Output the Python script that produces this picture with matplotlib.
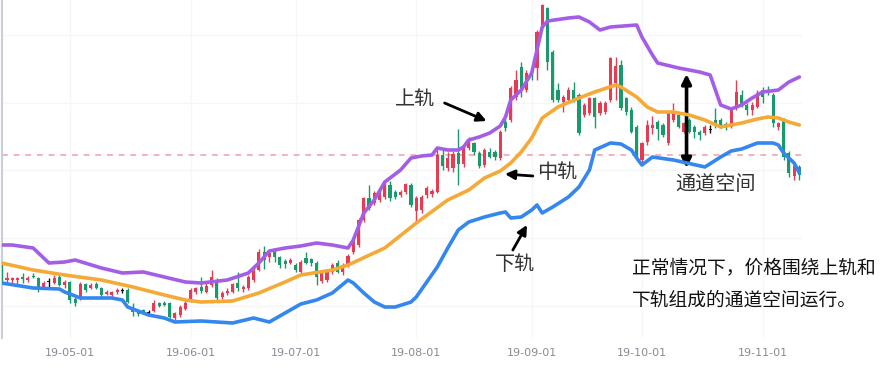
import matplotlib
matplotlib.use('Agg')
import matplotlib.pyplot as plt
import numpy as np

plt.rcParams['font.family'] = ['Noto Sans CJK SC', 'DejaVu Sans']

# Daily candles (trading-day index 0..152), price in chart units
opens = [73, 58, 58, 58, 61, 58, 62, 60, 50, 56, 55, 61, 53, 56, 39, 40, 54, 50, 54, 50,
         44, 43, 46, 47, 48, 31, 26, 28, 25, 27, 35, 35, 35, 20, 23, 29, 37, 46, 51, 46,
         53, 57, 41, 45, 46, 55, 49, 50, 58, 68, 86, 81, 86, 81, 77, 75, 73, 66, 80, 79,
         75, 57, 58, 66, 75, 66, 73, 86, 93, 118, 140, 135, 138, 141, 153, 146, 143, 146, 153, 127,
         128, 143, 144, 146, 183, 170, 170, 185, 174, 190, 195, 185, 173, 186, 186, 180, 216, 218, 241, 271,
         248, 266, 270, 313, 330, 286, 248, 236, 238, 248, 243, 223, 225, 240, 225, 226, 238, 255, 273, 240,
         228, 211, 178, 196, 210, 216, 213, 195, 218, 223, 206, 218, 211, 206, 205, 208, 218, 218, 214, 211,
         230, 243, 233, 228, 231, 248, 248, 243, 211, 218, 185, 162, 171]
closes = [56, 60, 60, 60, 59, 60, 61, 50, 55, 56, 60, 53, 56, 38, 35, 54, 48, 53, 50, 43,
          46, 46, 48, 47, 36, 26, 24, 25, 25, 35, 32, 33, 21, 25, 31, 35, 48, 50, 47, 52,
          61, 40, 45, 47, 54, 50, 51, 61, 67, 86, 78, 85, 81, 73, 74, 78, 68, 76, 75, 75,
          61, 65, 66, 73, 66, 73, 82, 99, 118, 140, 130, 145, 146, 153, 140, 141, 146, 154, 133, 140,
          141, 150, 147, 183, 172, 180, 184, 174, 190, 196, 186, 172, 188, 181, 181, 206, 210, 250, 258, 250,
          265, 263, 306, 333, 276, 238, 238, 241, 248, 238, 205, 233, 240, 221, 235, 235, 280, 272, 230, 226,
          206, 181, 195, 213, 213, 209, 203, 225, 225, 211, 215, 206, 206, 203, 211, 208, 213, 212, 210, 228,
          246, 233, 228, 233, 245, 241, 245, 215, 215, 181, 165, 172, 163]
highs = [73, 66, 61, 61, 65, 62, 65, 61, 57, 60, 63, 63, 58, 57, 41, 56, 55, 55, 56, 51,
         48, 47, 50, 50, 50, 35, 27, 29, 28, 38, 36, 37, 36, 26, 33, 37, 50, 51, 61, 55,
         68, 60, 47, 50, 55, 66, 53, 63, 70, 89, 92, 86, 88, 82, 79, 80, 75, 78, 86, 80,
         77, 66, 68, 75, 78, 75, 84, 101, 120, 141, 153, 147, 149, 156, 157, 148, 148, 155, 155, 142,
         143, 152, 149, 191, 188, 186, 187, 209, 193, 201, 196, 187, 190, 190, 188, 208, 220, 252, 268, 276,
         268, 270, 308, 334, 331, 288, 255, 243, 251, 256, 245, 235, 241, 241, 237, 237, 281, 281, 278, 241,
         231, 213, 196, 218, 222, 218, 215, 226, 235, 225, 216, 220, 213, 208, 213, 213, 230, 220, 216, 230,
         258, 248, 235, 236, 248, 251, 252, 245, 216, 220, 187, 175, 173]
lows = [56, 56, 53, 53, 55, 56, 60, 46, 49, 51, 54, 52, 50, 35, 32, 38, 46, 49, 49, 40,
        43, 40, 44, 45, 35, 22, 22, 24, 22, 26, 31, 32, 20, 18, 21, 28, 36, 44, 45, 45,
        51, 38, 39, 43, 45, 47, 46, 48, 56, 67, 69, 76, 76, 70, 70, 74, 66, 65, 74, 72,
        53, 55, 56, 64, 65, 63, 71, 84, 91, 116, 128, 133, 136, 139, 137, 139, 141, 144, 131, 116,
        125, 140, 141, 145, 168, 167, 166, 153, 171, 188, 183, 170, 171, 180, 178, 178, 207, 216, 238, 241,
        246, 258, 258, 311, 268, 236, 236, 226, 236, 236, 203, 221, 223, 210, 223, 224, 236, 238, 228, 223,
        205, 180, 175, 193, 204, 198, 201, 193, 216, 210, 205, 205, 200, 198, 203, 205, 210, 210, 208, 210,
        228, 231, 223, 223, 230, 235, 243, 211, 208, 178, 161, 158, 158]

# Bollinger bands, sampled along the trading-day index
upper_idx = [0, 2, 6, 9, 12, 14, 19, 23, 27, 31, 35, 38, 43, 47, 49, 51, 54, 57, 60, 63,
             66, 67, 69, 71, 73, 76, 78, 80, 82, 83, 85, 87, 88, 89, 91, 93, 95, 96, 97, 99,
             101, 102, 103, 104, 108, 110, 112, 114, 116, 121, 122, 124, 125, 129, 133, 135, 136, 137, 139, 141,
             143, 145, 148, 150, 152]
upper = [93, 93, 90, 75, 76, 78, 70, 65, 66, 61, 56, 55, 58, 65, 75, 87, 90, 92, 95, 93,
         90, 98, 125, 138, 156, 168, 180, 182, 183, 190, 188, 188, 191, 198, 201, 205, 212, 221, 238, 248,
         265, 288, 311, 317, 320, 321, 316, 308, 311, 313, 301, 283, 275, 270, 266, 263, 248, 233, 229, 233,
         240, 246, 248, 256, 261]
mid_idx = [0, 6, 12, 19, 25, 31, 35, 38, 44, 49, 54, 57, 63, 66, 73, 79, 85, 89, 92, 95,
           97, 99, 101, 103, 106, 110, 113, 117, 118, 121, 123, 125, 128, 131, 134, 137, 141, 144, 146, 148,
           150, 152]
mid = [75, 68, 63, 58, 51, 43, 38, 36, 37, 45, 56, 63, 68, 73, 90, 115, 138, 148, 160, 167,
       175, 186, 200, 220, 231, 240, 246, 253, 251, 241, 231, 226, 226, 223, 218, 211, 215, 219, 221, 220,
       216, 213]
lower_idx = [0, 6, 11, 12, 15, 21, 23, 24, 28, 31, 33, 38, 44, 48, 51, 54, 57, 60, 63, 66,
             67, 69, 71, 73, 75, 78, 79, 81, 83, 85, 87, 89, 92, 95, 96, 97, 99, 101, 102, 103,
             105, 108, 110, 112, 113, 116, 118, 120, 121, 122, 124, 128, 134, 137, 139, 141, 144, 147, 148, 149,
             151, 152]
lower = [55, 50, 49, 46, 40, 40, 38, 31, 23, 20, 16, 17, 15, 20, 16, 25, 34, 38, 45, 58,
         55, 45, 36, 31, 31, 36, 41, 56, 71, 90, 108, 116, 121, 125, 126, 120, 121, 128, 133, 125,
         131, 141, 151, 168, 188, 195, 194, 188, 180, 173, 181, 178, 171, 181, 187, 189, 195, 195, 193, 185,
         175, 165]

ref_level = 183
tick_idx = [13, 36, 56, 79, 101, 122, 145]
tick_labels = ['19-05-01', '19-06-01', '19-07-01', '19-08-01', '19-09-01', '19-10-01', '19-11-01']

up_color = '#e63c52'
down_color = '#189a6a'

fig = plt.figure(figsize=(8.95, 3.82), dpi=100)
ax = fig.add_axes([2 / 895, 44 / 382, 800 / 895, 338 / 382])

x = np.arange(len(opens))
o = np.array(opens)
c = np.array(closes)
colors = np.where(c > o, up_color, np.where(c < o, down_color, '#111111'))

# faint grid
for gy in [32, 100, 168, 235, 303]:
    ax.axhline(gy, color='#f5f6f8', lw=1, zorder=0)
for tx in tick_idx:
    ax.axvline(tx, color='#f5f6f8', lw=1, zorder=0)

ax.axhline(ref_level, color='#f2a5ae', lw=1.2, ls=(0, (3.5, 3.5)), zorder=1)

# candles
ax.vlines(x, lows, highs, colors=colors, lw=1, zorder=2)
body_h = np.maximum(np.abs(c - o), 0.8)
ax.bar(x, body_h, bottom=np.minimum(o, c), width=0.6, color=colors, zorder=3)

# bands
band_style = dict(lw=2.6, zorder=4, solid_capstyle='round', solid_joinstyle='round')
ax.plot(upper_idx, upper, color='#a45ee6', **band_style)
ax.plot(mid_idx, mid, color='#f5a936', **band_style)
ax.plot(lower_idx, lower, color='#3387ef', **band_style)

# annotations
arrow = dict(arrowstyle='-|>', color='black', lw=2, mutation_scale=14, shrinkA=0, shrinkB=0)
ax.text(78.7, 239, '上轨', fontsize=14.5, color='#333333', ha='center', va='center')
ax.annotate('', xy=(92.4, 217), xytext=(84.4, 235), arrowprops=arrow)
ax.text(105.8, 166, '中轨', fontsize=14.5, color='#333333', ha='center', va='center')
ax.annotate('', xy=(95.9, 164), xytext=(101.2, 162), arrowprops=arrow)
ax.text(97.8, 73, '下轨', fontsize=14.5, color='#333333', ha='center', va='center')
ax.annotate('', xy=(100.1, 113), xytext=(97.4, 88), arrowprops=arrow)
ax.annotate('', xy=(130.5, 264), xytext=(130.5, 170),
            arrowprops=dict(arrowstyle='<|-|>', color='black', lw=2.6, mutation_scale=14,
                            shrinkA=0, shrinkB=0))
ax.text(136.1, 154, '通道空间', fontsize=14.5, color='#333333', ha='center', va='center')

fig.text(632 / 895, 1 - 284 / 382, '正常情况下，价格围绕上轨和\n下轨组成的通道空间运行。',
         fontsize=13.5, color='#111111', ha='left', va='center', linespacing=1.75)

ax.set_xlim(0.06, 152.5)
ax.set_ylim(0, 338)
ax.set_yticks([])
ax.set_xticks(tick_idx)
ax.set_xticklabels(tick_labels, fontsize=8, color='#868b96', family='DejaVu Sans')
ax.tick_params(axis='x', length=0, pad=7)
for side in ['top', 'right', 'bottom']:
    ax.spines[side].set_visible(False)
ax.spines['left'].set_color('#c9cddd')
ax.spines['left'].set_linewidth(1.5)
ax.set_facecolor('white')

fig.savefig('out.png', dpi=100)
